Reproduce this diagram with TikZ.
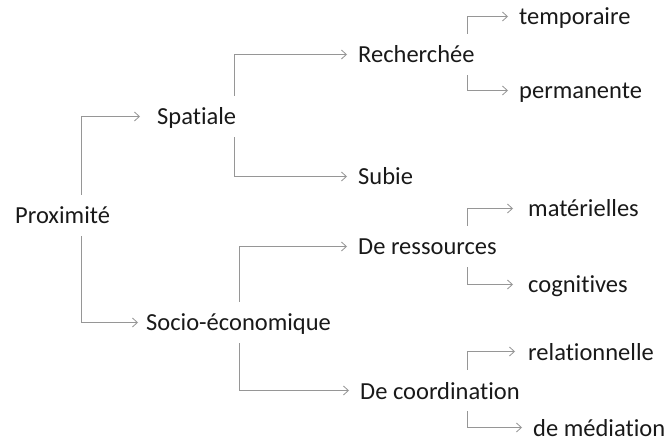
\documentclass[tikz,border=0pt]{standalone}
\usepackage{fontspec}
\setmainfont{Carlito}[Ligatures=CommonOff]
\usetikzlibrary{arrows.meta}
\definecolor{linegray}{RGB}{150,150,150}
\definecolor{textgray}{RGB}{25,25,25}
\tikzset{
  term/.style={anchor=base west, inner xsep=0pt, inner ysep=7bp, text height=22bp, text depth=5bp, font=\fontsize{24.5bp}{30bp}\selectfont, text=textgray},
  link/.style={draw=linegray, line width=0.8bp, -{Straight Barb[length=5bp,width=9bp]}}
}
\begin{document}
\begin{tikzpicture}[x=1bp,y=-1bp]
\useasboundingbox (0,0) rectangle (667,441);
\node[term] (prox) at (15,224) {Proximité};
\node[term] (spatiale) at (157,125) {Spatiale};
\node[term] (socio) at (146,331) {Socio-économique};
\node[term] (recherchee) at (358,63) {Recherchée};
\node[term] (subie) at (358,185) {Subie};
\node[term] (ressources) at (358,255) {De ressources};
\node[term] (coordination) at (360,399) {De coordination};
\node[term] (temporaire) at (519,25) {temporaire};
\node[term] (permanente) at (519,99) {permanente};
\node[term] (materielles) at (528,217) {matérielles};
\node[term] (cognitives) at (528,293) {cognitives};
\node[term] (relationnelle) at (528,360) {relationnelle};
\node[term] (mediation) at (533,436) {de médiation};
\draw[link] ([xshift=66bp]prox.north west) |- ([xshift=-17bp]spatiale.west);
\draw[link] ([xshift=66bp]prox.south west) |- ([xshift=-8bp]socio.west);
\draw[link] ([xshift=77bp]spatiale.north west) |- ([xshift=-11bp]recherchee.west);
\draw[link] ([xshift=77bp]spatiale.south west) |- ([xshift=-11bp]subie.west);
\draw[link] ([xshift=93bp]socio.north west) |- ([xshift=-11bp]ressources.west);
\draw[link] ([xshift=93bp]socio.south west) |- ([xshift=-11bp]coordination.west);
\draw[link] ([xshift=109bp]recherchee.north west) |- ([xshift=-11bp]temporaire.west);
\draw[link] ([xshift=109bp]recherchee.south west) |- ([xshift=-11bp]permanente.west);
\draw[link] ([xshift=109bp]ressources.north west) |- ([xshift=-15bp]materielles.west);
\draw[link] ([xshift=109bp]ressources.south west) |- ([xshift=-15bp]cognitives.west);
\draw[link] ([xshift=107bp]coordination.north west) |- ([xshift=-13bp]relationnelle.west);
\draw[link] ([xshift=107bp]coordination.south west) |- ([xshift=-11bp]mediation.west);
\end{tikzpicture}
\end{document}
